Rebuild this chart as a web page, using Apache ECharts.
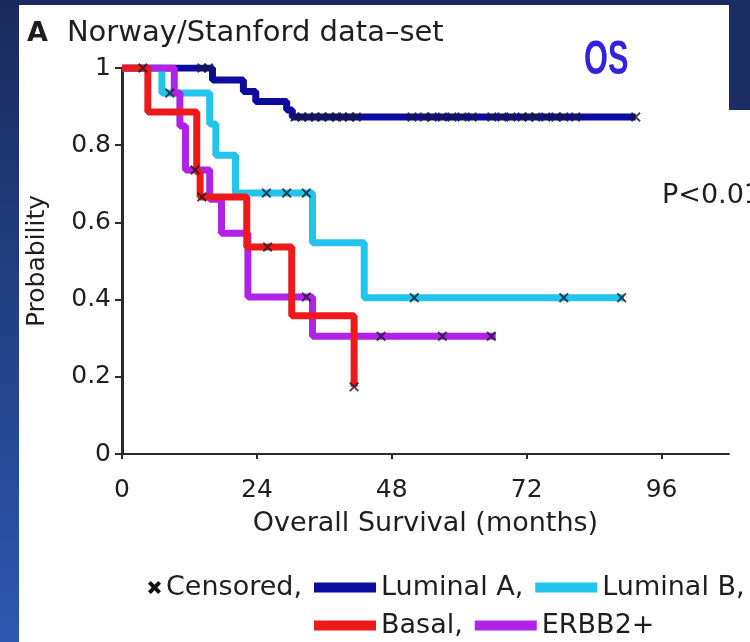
<!DOCTYPE html>
<html>
<head>
<meta charset="utf-8">
<script src="https://cdn.jsdelivr.net/npm/echarts@6/dist/echarts.min.js"></script>
<style>
html, body { margin: 0; padding: 0; background: #1d3166; }
#chart { width: 750px; height: 642px; }
</style>
</head>
<body>
<div id="chart"></div>
<script>
// Kaplan-Meier curves: month of each step and survival after it
var lumATimes = [0, 16.1, 21.6, 23.8, 29.3, 30.3, 91.4];
var lumASurv  = [1, 0.969, 0.939, 0.913, 0.891, 0.873, 0.873];
var lumBTimes = [0, 7.1, 15.6, 16.7, 20.2, 33.9, 43.1, 89.3];
var lumBSurv  = [1, 0.935, 0.855, 0.774, 0.676, 0.547, 0.405, 0.405];
var basalTimes = [0, 4.6, 13.3, 13.9, 22.2, 30.2, 41.3];
var basalSurv  = [1, 0.886, 0.73, 0.666, 0.536, 0.358, 0.174];
var erbbTimes = [0, 9.3, 10.3, 11.3, 15.6, 17.7, 22.4, 33.9, 66.5];
var erbbSurv  = [1, 0.935, 0.85, 0.736, 0.66, 0.572, 0.407, 0.305, 0.305];

// censored patients (x marks)
var lumACensT = [14.2, 15.4, 30.8, 32, 33.2, 34.4, 35.5, 36.9, 38.2, 39.2, 40.5, 41.7,
                 51.6, 53.8, 55.2, 57, 58.7, 60.5, 62.3, 65.8, 67.6, 69.2, 71.2, 72.4,
                 73.6, 75.4, 77.2, 78.6, 80.7, 91.4];
var lumACensS = [1, 1, 0.873, 0.873, 0.873, 0.873, 0.873, 0.873, 0.873, 0.873, 0.873, 0.873,
                 0.873, 0.873, 0.873, 0.873, 0.873, 0.873, 0.873, 0.873, 0.873, 0.873, 0.873, 0.873,
                 0.873, 0.873, 0.873, 0.873, 0.873, 0.873];
var lumBCensT = [8.5, 25.7, 29.3, 32.8, 52, 78.6, 88.9];
var lumBCensS = [0.935, 0.676, 0.676, 0.676, 0.405, 0.405, 0.405];
var basalCensT = [3.7, 14.2, 25.9, 41.3];
var basalCensS = [1, 0.666, 0.536, 0.174];
var erbbCensT = [13, 32.8, 46.1, 57, 65.7];
var erbbCensS = [0.736, 0.407, 0.305, 0.305, 0.305];

var xTicks = [0, 24, 48, 72, 96];

// the figure is stretched sideways, so a wide face fits the text best
var FONT = "'DejaVu Sans', Verdana, sans-serif";
var INK = '#1e1e1e';
var crossPath = 'path://M0,1.4L1.4,0L5,3.6L8.6,0L10,1.4L6.4,5L10,8.6L8.6,10L5,6.4L1.4,10L0,8.6L3.6,5Z';
var boldCross = 'path://M0,2.2L2.2,0L5,2.8L7.8,0L10,2.2L7.2,5L10,7.8L7.8,10L5,7.2L2.2,10L0,7.8L2.8,5Z';

function pairs(xs, ys) {
    return xs.map(function (x, i) { return [x, ys[i]]; });
}

function curve(name, times, surv, color, z) {
    return {
        name: name,
        type: 'line',
        step: 'end',
        data: pairs(times, surv),
        showSymbol: false,
        symbol: 'none',
        lineStyle: { width: 7, color: color },
        itemStyle: { color: color },
        z: z,
        silent: true
    };
}

function censored(times, surv) {
    return {
        name: 'Censored',
        type: 'scatter',
        data: pairs(times, surv),
        symbol: crossPath,
        symbolSize: 10,
        itemStyle: { color: '#1c1c2a', opacity: 0.8 },
        z: 10,
        silent: true
    };
}

var legendText = { fontSize: 27, fontFamily: FONT, color: INK };

var chart = echarts.init(document.getElementById('chart'));

chart.setOption({
    animation: false,
    backgroundColor: {
        type: 'linear', x: 0, y: 0, x2: 0, y2: 1,
        colorStops: [{ offset: 0, color: '#1a2a5c' }, { offset: 1, color: '#2c58ae' }]
    },
    graphic: [
        { type: 'rect', z: -10, silent: true, shape: { x: 19, y: 5, width: 731, height: 637 }, style: { fill: '#ffffff' } },
        { type: 'rect', z: -9, silent: true, shape: { x: 729, y: 0, width: 21, height: 110 }, style: { fill: '#1b2d62' } },
        { type: 'text', silent: true, x: 584, y: 61, scaleX: 0.64, originX: 0,
          style: { text: 'OS', fontSize: 48, fontWeight: 'bold', fontFamily: "'Liberation Sans', Arial, sans-serif",
                   fill: '#3322dd', verticalAlign: 'middle' } },
        { type: 'text', silent: true, x: 662, y: 196,
          style: { text: 'P<0.01', fontSize: 27, fontFamily: FONT, fill: INK, verticalAlign: 'middle' } }
    ],
    title: {
        text: '{a|A}Norway/Stanford data–set',
        left: 22, top: 14,
        textStyle: {
            fontSize: 29, fontWeight: 'normal', fontFamily: FONT, color: INK,
            rich: { a: { fontSize: 27, fontWeight: 'bold', fontFamily: FONT, color: INK, padding: [0, 19, 0, 0] } }
        }
    },
    legend: [
        {
            data: [{ name: 'Censored', icon: boldCross, itemStyle: { color: '#111', opacity: 1 } }],
            left: 148, top: 574, padding: 0,
            itemWidth: 13, itemHeight: 13,
            selectedMode: false,
            formatter: '{name},',
            textStyle: legendText
        },
        {
            data: ['Luminal A', 'Luminal B'],
            left: 314, top: 574, padding: 0, width: 436,
            icon: 'rect', itemWidth: 62, itemHeight: 10, itemGap: 12,
            selectedMode: false,
            formatter: '{name},',
            textStyle: legendText
        },
        {
            data: ['Basal', 'ERBB2+'],
            left: 314, top: 612, padding: 0,
            icon: 'rect', itemWidth: 62, itemHeight: 10, itemGap: 12,
            selectedMode: false,
            formatter: function (name) { return name === 'Basal' ? 'Basal,' : name; },
            textStyle: legendText
        }
    ],
    grid: { left: 122, right: 21, top: 68, bottom: 188 },
    xAxis: {
        type: 'value',
        min: 0, max: 108, interval: 24,
        name: 'Overall Survival (months)',
        nameLocation: 'middle', nameGap: 56,
        nameTextStyle: { fontSize: 27, fontFamily: FONT, color: INK },
        axisLine: { lineStyle: { color: '#2a2a2a', width: 2 } },
        axisTick: { customValues: xTicks, length: 5, lineStyle: { color: '#2a2a2a', width: 2 } },
        axisLabel: { customValues: xTicks, margin: 24, fontSize: 25, fontFamily: FONT, color: INK },
        splitLine: { show: false }
    },
    yAxis: {
        type: 'value',
        min: 0, max: 1, interval: 0.2,
        name: 'Probability',
        nameLocation: 'middle', nameGap: 72, nameRotate: 90,
        nameTextStyle: { fontSize: 25, fontFamily: FONT, color: INK },
        axisLine: { show: true, lineStyle: { color: '#2a2a2a', width: 3 } },
        axisTick: { show: true, length: 7, lineStyle: { color: '#2a2a2a', width: 2 } },
        axisLabel: { margin: 11, fontSize: 25, fontFamily: FONT, color: INK },
        splitLine: { show: false }
    },
    series: [
        curve('Luminal A', lumATimes, lumASurv, '#0c0c9e', 2),
        curve('Luminal B', lumBTimes, lumBSurv, '#22c4ec', 3),
        curve('ERBB2+', erbbTimes, erbbSurv, '#b022e8', 4),
        curve('Basal', basalTimes, basalSurv, '#ee1a1a', 5),
        censored(lumACensT, lumACensS),
        censored(lumBCensT, lumBCensS),
        censored(erbbCensT, erbbCensS),
        censored(basalCensT, basalCensS)
    ]
});
</script>
</body>
</html>
